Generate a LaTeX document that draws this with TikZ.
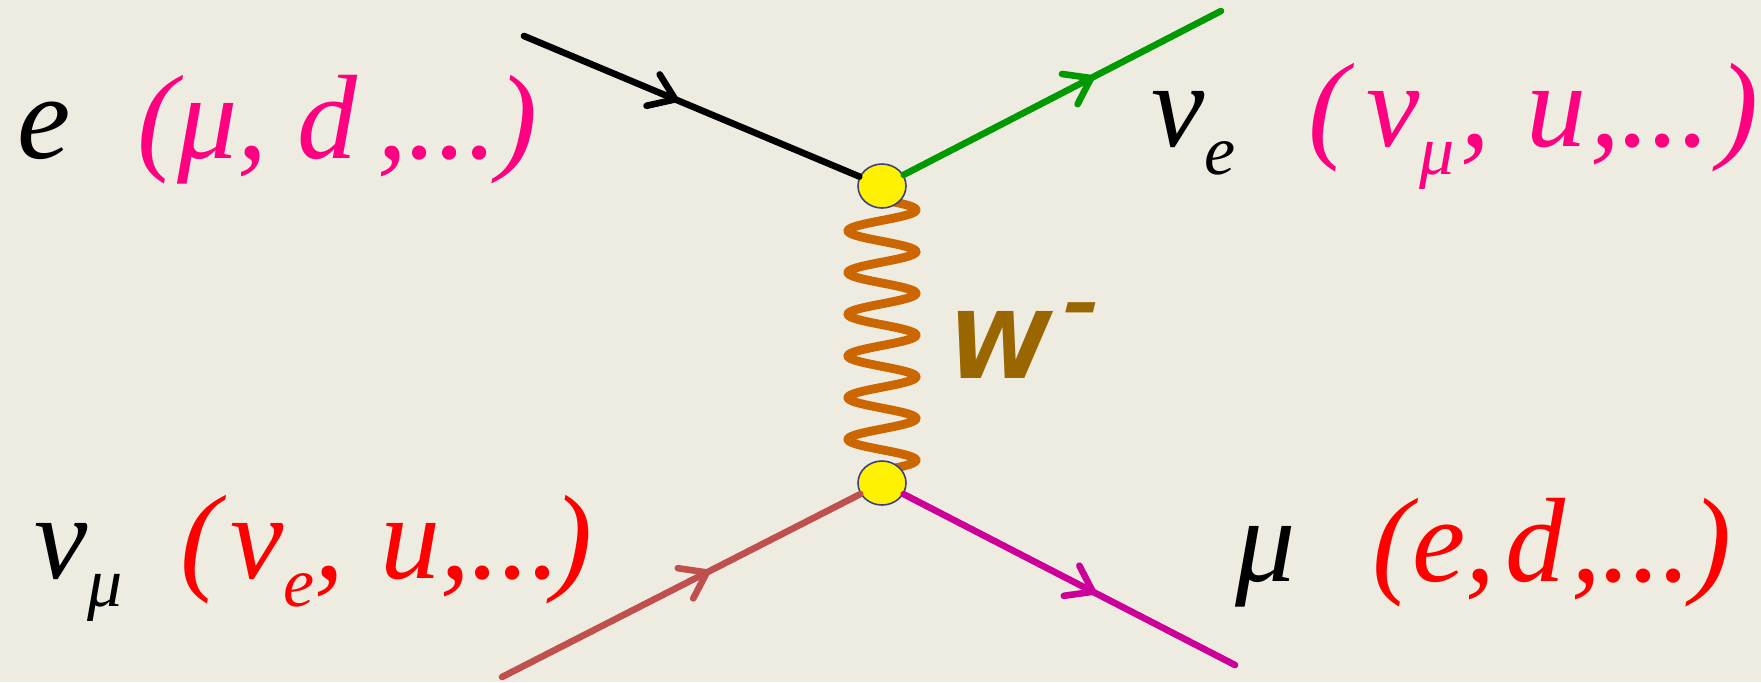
\documentclass[tikz,border=0pt]{standalone}
\usepackage{fontspec}
\usepackage{graphicx}
\setmainfont{Liberation Serif}
\newfontfamily\wfont{DejaVu Sans}
\usetikzlibrary{arrows.meta,decorations.markings,shapes.geometric}
\pgfdeclarelayer{background}
\pgfsetlayers{background,main}
\definecolor{bgc}{RGB}{238,236,225}
\definecolor{pinkc}{RGB}{255,0,128}
\definecolor{redc}{RGB}{255,0,0}
\definecolor{greenc}{RGB}{0,153,0}
\definecolor{brownline}{RGB}{192,80,77}
\definecolor{magline}{RGB}{204,0,153}
\definecolor{coilc}{RGB}{204,102,0}
\definecolor{wcol}{RGB}{153,102,0}
\definecolor{vborder}{RGB}{63,63,127}
\newcommand\lbsub[1]{\raisebox{-14pt}{\fontsize{35pt}{35pt}\selectfont #1}}
\begin{document}
\begin{tikzpicture}[x=0.5pt,y=-0.5pt,
  vertex/.style={ellipse,draw=vborder,line width=0.8pt,fill=yellow,minimum width=24pt,minimum height=22pt,inner sep=0pt},
  lbl/.style={anchor=base west,inner sep=0pt,font=\fontsize{60pt}{60pt}\selectfont\itshape},
  fermion/.style={line width=3.3pt,line cap=round},
  arrowat/.style={postaction={decorate,decoration={markings,mark=at position #1 with {\arrow{Straight Barb[length=12pt,width=17pt,round]}}}}}
]
\begin{pgfonlayer}{background}
\fill[bgc] (0,0) rectangle (1761,682);
\end{pgfonlayer}
\useasboundingbox (0,0) rectangle (1761,682);

\node[vertex] (v1) at (882,186) {};
\node[vertex] (v2) at (882,483) {};
\coordinate (ein) at (524,36);
\coordinate (nueout) at (1221,11);
\coordinate (numuin) at (502,677);
\coordinate (muout) at (1235,665);

\begin{pgfonlayer}{background}
\draw[coilc,line width=4.4pt,line cap=round] plot[domain=-0.3:6.3,samples=300,smooth] ({882+34*cos(360*\x)},{210+41.7*\x});
\end{pgfonlayer}
\draw[fermion,black,arrowat=0.46] (ein) -- (v1);
\draw[fermion,greenc,arrowat=0.60] (v1) -- (nueout);
\draw[fermion,brownline,arrowat=0.58] (numuin) -- (v2);
\draw[fermion,magline,arrowat=0.58] (v2) -- (muout);

\node[anchor=base west,inner sep=0pt,text=wcol,font=\wfont\bfseries\itshape\fontsize{46pt}{46pt}\selectfont] (wlbl) at (948,378) {W\kern7pt\raisebox{25pt}{\scalebox{1.5}[1.2]{\fontsize{30pt}{30pt}\selectfont -}}};

\node[lbl] (eL) at (17,158) {e};
\node[lbl,text=pinkc] (eAlt) at (137,158) {(μ, d\,,...)};
\node[lbl] (nueL) at (1151,146) {ν\lbsub{e}};
\node[lbl,text=pinkc] (nueAlt) at (1308,146) {(\kern9pt ν\lbsub{μ}\kern3pt, \kern3pt u\kern2pt,...\kern4pt)};
\node[lbl] (numuL) at (34,578) {ν\lbsub{μ}};
\node[lbl,text=redc] (numuAlt) at (180,578) {(\kern5pt ν\lbsub{e}, \kern3pt u,...\kern-4pt)};
\node[lbl] (muL) at (1235,581) {μ};
\node[lbl,text=redc] (muAlt) at (1372,581) {(e,\kern5pt d\kern3pt,...)};
\end{tikzpicture}
\end{document}
